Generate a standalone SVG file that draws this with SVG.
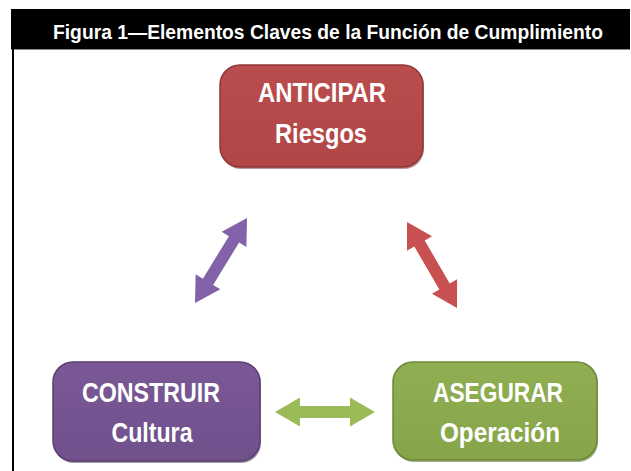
<svg xmlns="http://www.w3.org/2000/svg" width="631" height="471" viewBox="0 0 631 471">
<style>
.t{font-family:"Liberation Sans",Arial,sans-serif;font-weight:bold;fill:#fff;text-anchor:middle}
.n{font-size:28px}
.h{font-size:21px;text-anchor:start}
</style>
<defs>
<linearGradient id="gr" x1="0" y1="0" x2="0" y2="1"><stop offset="0" stop-color="#BA4D4D"/><stop offset="1" stop-color="#B04646"/></linearGradient>
<linearGradient id="gp" x1="0" y1="0" x2="0" y2="1"><stop offset="0" stop-color="#7A5896"/><stop offset="1" stop-color="#70518C"/></linearGradient>
<linearGradient id="gg" x1="0" y1="0" x2="0" y2="1"><stop offset="0" stop-color="#90AE52"/><stop offset="1" stop-color="#86A54A"/></linearGradient>
<path id="dbl" d="M0,0 L25,-14.5 L25,-6 L75,-6 L75,-14.5 L100,0 L75,14.5 L75,6 L25,6 L25,14.5 Z"/>
</defs>
<rect width="631" height="471" fill="#fff"/>
<g id="frame">
<rect x="11" y="9" width="619" height="40" fill="#000"/>
<rect x="11" y="49" width="619" height="1" fill="#888"/>
<rect x="12" y="49" width="2" height="422" fill="#000"/>
<text class="t h" x="53" y="38.5" textLength="550" lengthAdjust="spacingAndGlyphs">Figura 1—Elementos Claves de la Función de Cumplimiento</text>
</g>
<g id="connectors">
<use href="#dbl" fill="#8462A9" transform="translate(195,303) rotate(-58.5) scale(0.996,1)"/>
<use href="#dbl" fill="#C85050" transform="translate(407,222) rotate(59.8) scale(0.995,1)"/>
<use href="#dbl" fill="#9BBB59" transform="translate(275,412)"/>
</g>
<g id="anticipar">
<rect x="221" y="66" width="203" height="103" rx="20" fill="#7A2E2E" opacity="0.5"/>
<rect x="220" y="65" width="203" height="102" rx="20" fill="url(#gr)" stroke="#8E3838" stroke-width="1.5"/>
<text class="t n" x="322" y="102" textLength="128" lengthAdjust="spacingAndGlyphs">ANTICIPAR</text>
<text class="t n" x="321" y="143" textLength="92" lengthAdjust="spacingAndGlyphs">Riesgos</text>
</g>
<g id="construir">
<rect x="54" y="363" width="207" height="100" rx="20" fill="#3E2A50" opacity="0.5"/>
<rect x="53" y="362" width="207" height="99" rx="20" fill="url(#gp)" stroke="#5A3F72" stroke-width="1.5"/>
<text class="t n" x="151" y="402" textLength="138" lengthAdjust="spacingAndGlyphs">CONSTRUIR</text>
<text class="t n" x="152" y="442" textLength="81" lengthAdjust="spacingAndGlyphs">Cultura</text>
</g>
<g id="asegurar">
<rect x="394" y="363" width="204" height="99" rx="20" fill="#4C6128" opacity="0.5"/>
<rect x="393" y="362" width="204" height="98" rx="20" fill="url(#gg)" stroke="#6C8838" stroke-width="1.5"/>
<text class="t n" x="498" y="402" textLength="130" lengthAdjust="spacingAndGlyphs">ASEGURAR</text>
<text class="t n" x="500" y="442" textLength="120" lengthAdjust="spacingAndGlyphs">Operación</text>
</g>
</svg>
